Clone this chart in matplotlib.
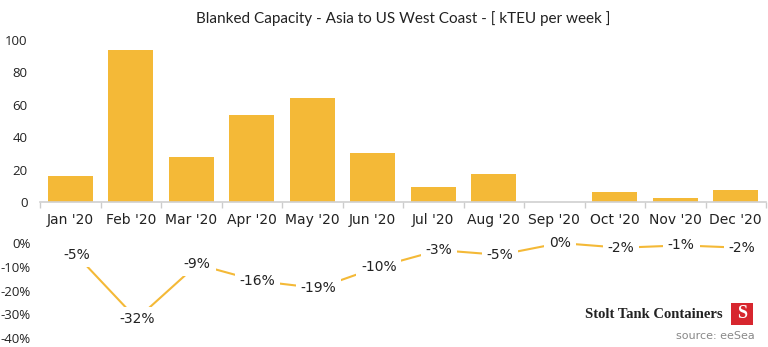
import matplotlib
matplotlib.use("Agg")
import matplotlib.pyplot as plt
from matplotlib.patches import Rectangle

months = ["Jan '20", "Feb '20", "Mar '20", "Apr '20", "May '20", "Jun '20",
          "Jul '20", "Aug '20", "Sep '20", "Oct '20", "Nov '20", "Dec '20"]
blanked = [16, 94, 28, 54, 64, 30, 9, 17, 0, 6, 2.5, 7.5]
share_pct = [-5, -32, -9, -16, -19, -10, -3, -5, 0, -2, -1, -2]
share_labels = ["-5%", "-32%", "-9%", "-16%", "-19%", "-10%",
                "-3%", "-5%", "0%", "-2%", "-1%", "-2%"]
top_ticks = [0, 20, 40, 60, 80, 100]
bottom_ticks = [0, -10, -20, -30, -40]

GOLD = "#f4b937"
W, H = 768, 347
plt.rcParams["font.family"] = ["Open Sans", "DejaVu Sans"]

fig = plt.figure(figsize=(W / 100, H / 100), dpi=100)

# --- bars ---
ax = fig.add_axes([40 / W, 1 - 202 / H, 726 / W, 162 / H])
x = list(range(len(months)))
ax.bar(x, blanked, width=0.75, color=GOLD, zorder=2)
ax.set_xlim(-0.5, len(months) - 0.5)
ax.set_ylim(0, 100)
ax.set_yticks(top_ticks)
ax.set_yticklabels([str(t) for t in top_ticks], fontsize=9.5, color="#222222")
ax.set_xticks(x)
ax.set_xticklabels(months, fontsize=10, color="#222222", family=["DejaVu Sans"])
ax.tick_params(axis="x", length=0, pad=8)
ax.tick_params(axis="y", length=0, pad=9)
ax.set_xticks([i - 0.5 for i in range(len(months) + 1)], minor=True)
ax.tick_params(axis="x", which="minor", length=4, color="#cccccc", width=1)
for s in ["top", "right", "left"]:
    ax.spines[s].set_visible(False)
ax.spines["bottom"].set_color("#d0d0d0")
ax.spines["bottom"].set_linewidth(1.2)
ax.set_title("Blanked Capacity - Asia to US West Coast - [ kTEU per week ]",
             fontsize=11, color="#222222", pad=12, family=["Lato", "DejaVu Sans"])

# --- share line ---
ax2 = fig.add_axes([46 / W, 1 - 338 / H, 726 / W, 95 / H])
ax2.plot(x, share_pct, color=GOLD, lw=1.5, zorder=1)
for xi, yi, lab in zip(x, share_pct, share_labels):
    ax2.text(xi, yi, lab, ha="center", va="center", fontsize=10, color="#222222",
             family=["DejaVu Sans"], zorder=3,
             bbox=dict(boxstyle="square,pad=0.35", fc="white", ec="none"))
ax2.set_xlim(-0.5, len(months) - 0.5)
ax2.set_ylim(-40, 0)
ax2.set_yticks(bottom_ticks)
ax2.set_yticklabels([f"{t}%" for t in bottom_ticks], fontsize=9.5, color="#222222")
ax2.tick_params(axis="y", length=0, pad=11)
ax2.set_xticks([])
for s in ax2.spines.values():
    s.set_visible(False)
ax2.patch.set_alpha(0)

# --- branding ---
fig.text(723 / W, 1 - 314 / H, "Stolt Tank Containers", ha="right", va="center",
         fontsize=10.5, fontweight="bold", family=["Liberation Serif"], color="#222222")
fig.patches.append(Rectangle((731 / W, 1 - 325 / H), 22 / W, 22 / H,
                             transform=fig.transFigure, fc="#d7262e", ec="none"))
fig.text(742 / W, 1 - 314 / H, "S", ha="center", va="center", fontsize=13,
         fontweight="bold", family=["Liberation Serif"], color="white")
fig.text(755 / W, 1 - 336 / H, "source: eeSea", ha="right", va="center",
         fontsize=8, color="#888888", family=["DejaVu Sans"])

fig.savefig("out.png", dpi=100)
